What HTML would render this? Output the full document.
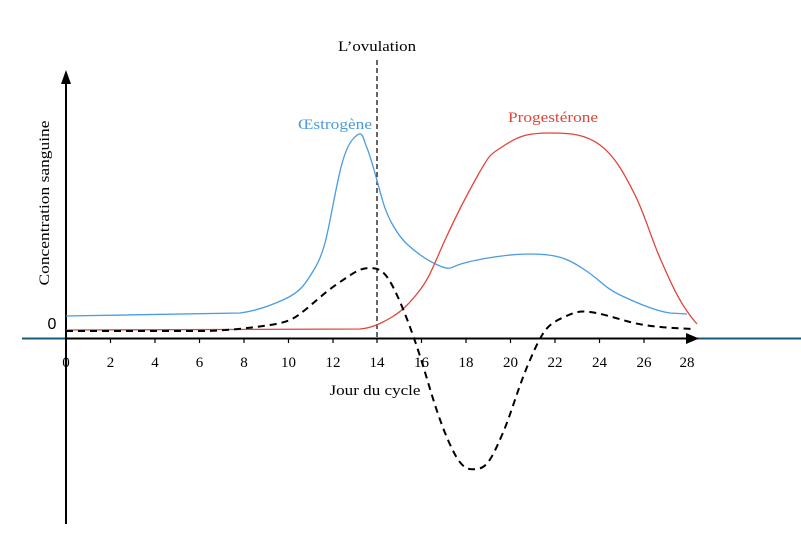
<!DOCTYPE html>
<html><head><style>body{margin:0;background:#fff}svg{display:block}text{font-family:"Liberation Serif",serif}</style></head><body>
<svg width="801" height="554" viewBox="0 0 801 554">
<line x1="22" y1="338.5" x2="801" y2="338.5" stroke="#1a5a7a" stroke-width="2"/>
<line x1="66" y1="338.5" x2="690" y2="338.5" stroke="#000" stroke-width="2"/>
<polygon points="699,338.5 686,333 686,344" fill="#000"/>
<line x1="66" y1="80" x2="66" y2="524" stroke="#000" stroke-width="2"/>
<polygon points="66,70 61,84 71,84" fill="#000"/>
<g stroke="#000" stroke-width="1.2">
<line x1="110.5" y1="338" x2="110.5" y2="343"/><line x1="155" y1="338" x2="155" y2="343"/><line x1="199.5" y1="338" x2="199.5" y2="343"/><line x1="244" y1="338" x2="244" y2="343"/><line x1="288.5" y1="338" x2="288.5" y2="343"/><line x1="333" y1="338" x2="333" y2="343"/><line x1="377" y1="338" x2="377" y2="343"/><line x1="421.5" y1="338" x2="421.5" y2="343"/><line x1="466" y1="338" x2="466" y2="343"/><line x1="510.5" y1="338" x2="510.5" y2="343"/><line x1="555" y1="338" x2="555" y2="343"/><line x1="599.5" y1="338" x2="599.5" y2="343"/><line x1="644" y1="338" x2="644" y2="343"/><line x1="687" y1="338" x2="687" y2="343"/>
</g>
<g font-size="15" text-anchor="middle">
<text x="66" y="367">0</text><text x="110.5" y="367">2</text><text x="155" y="367">4</text><text x="199.5" y="367">6</text><text x="244" y="367">8</text><text x="288.5" y="367">10</text><text x="333" y="367">12</text><text x="377" y="367">14</text><text x="421.5" y="367">16</text><text x="466" y="367">18</text><text x="510.5" y="367">20</text><text x="555" y="367">22</text><text x="599.5" y="367">24</text><text x="644" y="367">26</text><text x="687" y="367">28</text>
<text x="375" y="395" textLength="91" lengthAdjust="spacingAndGlyphs">Jour du cycle</text>
<text x="377" y="51" textLength="78" lengthAdjust="spacingAndGlyphs">L’ovulation</text>
<text x="335" y="129" fill="#4a9be0" textLength="74" lengthAdjust="spacingAndGlyphs">Œstrogène</text>
<text x="553" y="122" fill="#e0453a" textLength="90" lengthAdjust="spacingAndGlyphs">Progestérone</text>
</g>
<text x="52" y="329" font-size="16" text-anchor="middle" style="font-family:'Liberation Sans',sans-serif">0</text>
<text transform="translate(49,203) rotate(-90)" font-size="15" text-anchor="middle" textLength="165" lengthAdjust="spacingAndGlyphs">Concentration sanguine</text>
<line x1="377" y1="60" x2="377" y2="338" stroke="#000" stroke-width="1.2" stroke-dasharray="5,3"/>
<path d="M66,316 L240,313 C255,311 270,306 285,299 S305,285 315,268 S328,230 333,205 S343,150 353,139 S362,136 367,148 S378,185 383,202 S398,236 408,245 S430,262 440,266 S450,268 458,265 S500,254 530,254 S570,260 585,270 S605,288 620,295 S655,311 670,313 L687,314" fill="none" stroke="#4a9be0" stroke-width="1.3"/>
<path d="M66,330 L360,329 C372,328 382,323 392,317 S410,303 420,290 S435,262 445,240 S465,198 478,175 S490,155 505,145 S530,133 550,133 S585,134 600,145 S625,175 635,195 S650,235 660,258 S680,305 697,324" fill="none" stroke="#e0453a" stroke-width="1.3"/>
<path d="M66,331 L200,331 C225,331 250,328 270,325 S295,318 305,310 S325,292 340,282 S360,268 370,268 S385,272 392,285 S408,320 418,350 S435,410 448,440 S467,470 477,469 S492,458 502,435 S517,390 530,360 S547,325 562,318 S580,311 590,312 S615,318 630,322 S665,328 695,329" fill="none" stroke="#000" stroke-width="2" stroke-dasharray="7,5"/>
</svg>
</body></html>
